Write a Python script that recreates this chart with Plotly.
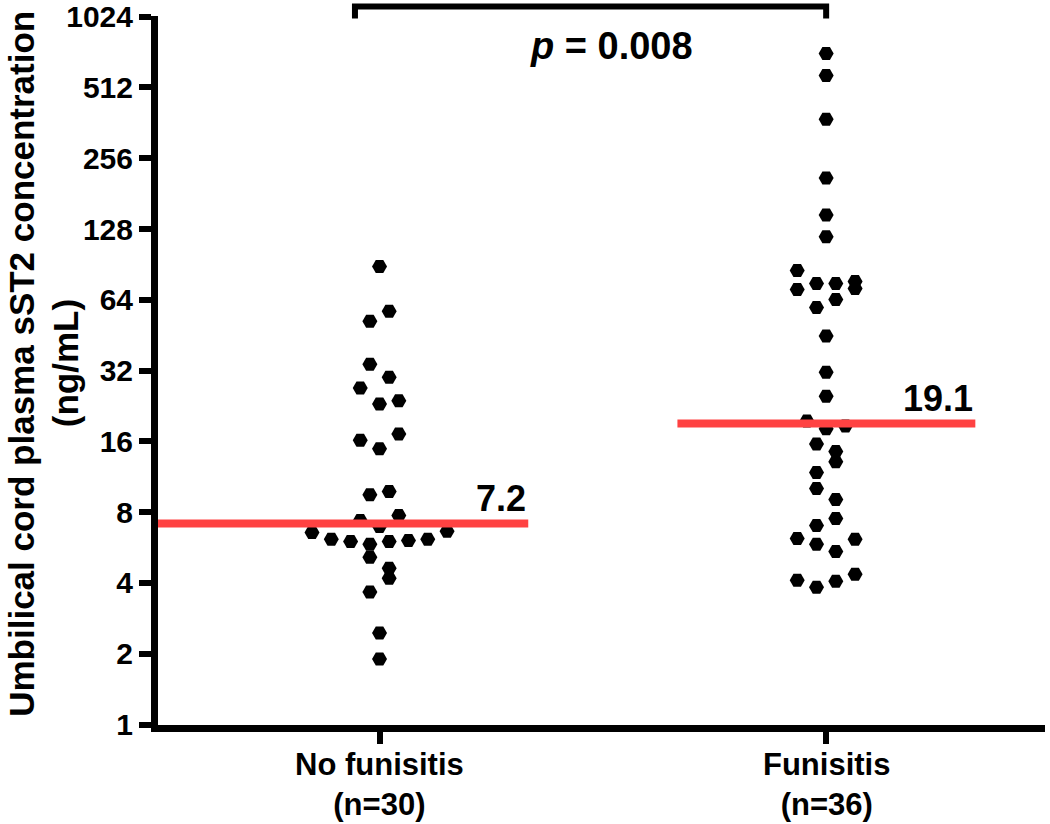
import numpy as np
import plotly.graph_objects as go

# ---------------- data ----------------
categories = ["No funisitis", "Funisitis"]
n_labels = ["(n=30)", "(n=36)"]

# values listed in data-entry order (top to bottom, left to right within rows)
no_funisitis = [88.6,
                51.9, 57.2,
                34.1, 30.0,
                27.0, 23.1, 23.8,
                16.2, 14.9, 17.2,
                9.5, 9.8,
                7.37, 6.96, 7.74,
                6.56, 6.13, 6.01, 5.84, 6.01, 6.07, 6.13, 6.63,
                5.14, 4.62,
                3.66, 4.19,
                2.45,
                1.90]
funisitis = [714, 576, 375, 211, 147, 118.6,
             85.2, 75.1, 75.1, 76.6,
             70.8, 59.4, 64.2, 71.5,
             44.9, 31.5, 24.9,
             19.56, 18.1, 18.6,
             15.6, 14.5,
             11.8, 13.1,
             10.1, 9.06,
             7.03, 7.52,
             6.19, 5.84, 5.45, 6.13,
             4.11, 3.84, 4.07, 4.36]
p_value = "0.008"
y_ticks = [1, 2, 4, 8, 16, 32, 64, 128, 256, 512, 1024]
y_title_lines = ["Umbilical cord plasma sST2 concentration", "(ng/mL)"]

groups = [no_funisitis, funisitis]

# ---------------- swarm layout (Prism-like row binning) ----------------
bin_threshold = [0.24, 0.28]   # log2 units
spacing = 0.0432               # x-units between neighbouring dots


def swarm_offsets(values, thr, sp):
    v = np.log2(np.asarray(values, dtype=float))
    order = sorted(range(len(v)), key=lambda i: (v[i], i))
    bins, cur, start = [], [], None
    for i in order:
        if start is None or v[i] - start > thr:
            if cur:
                bins.append(cur)
            cur, start = [i], v[i]
        else:
            cur.append(i)
    if cur:
        bins.append(cur)
    offs = np.zeros(len(v))
    for b in bins:
        b = sorted(b)
        n = len(b)
        for k, i in enumerate(b):
            offs[i] = (k - (n - 1) / 2) * sp
    return offs


fig = go.Figure()
FONT = "Liberation Sans, Arial, sans-serif"

for gi, vals in enumerate(groups):
    xs = gi + swarm_offsets(vals, bin_threshold[gi], spacing)
    fig.add_trace(go.Scatter(
        x=xs, y=vals, mode="markers",
        marker=dict(symbol="hexagon2", size=15, color="black", line=dict(width=0)),
        showlegend=False, hoverinfo="y"))

# median lines
medians = [float(np.median(v)) for v in groups]
line_extent = [(-0.7, 0.333), (0.667, 1.334)]
for gi, m in enumerate(medians):
    x0, x1 = line_extent[gi]
    fig.add_trace(go.Scatter(
        x=[x0, x1], y=[m, m], mode="lines",
        line=dict(color="#FF4242", width=8),
        showlegend=False, hoverinfo="skip"))
    fig.add_annotation(x=x1, y=np.log10(m), xref="x", yref="y",
                       text=f"<b>{m:.1f}</b>", showarrow=False,
                       xanchor="right", yanchor="bottom", yshift=2,
                       font=dict(family=FONT, size=36, color="black"))

# significance bracket
fig.add_shape(type="path", xref="x", yref="paper",
              path="M -0.055,0.9965 L -0.055,1.0134 L 1.0,1.0134 L 1.0,0.9965",
              line=dict(color="black", width=6))
fig.add_annotation(x=0.52, y=0.958, xref="x", yref="paper",
                   text=f"<b><i>p</i> = {p_value}</b>", showarrow=False,
                   xanchor="center", yanchor="middle",
                   font=dict(family=FONT, size=38, color="black"))

# y-axis title (two rotated lines)
for line_text, xp in zip(y_title_lines, [-0.154, -0.104]):
    fig.add_annotation(x=xp, y=0.51, xref="paper", yref="paper",
                       text=f"<b>{line_text}</b>",
                       textangle=-90, showarrow=False, xanchor="center", yanchor="middle",
                       font=dict(family=FONT, size=35, color="black"))

# category labels
for gi, (c, n) in enumerate(zip(categories, n_labels)):
    fig.add_annotation(x=gi, y=-0.028, xref="x", yref="paper",
                       text=f"<b>{c}<br>{n}</b>", showarrow=False,
                       xanchor="center", yanchor="top",
                       font=dict(family=FONT, size=31, color="black"))

fig.update_xaxes(
    range=[-0.496, 1.490], tickvals=[0, 1], showticklabels=False,
    showline=True, linecolor="black", linewidth=7,
    ticks="outside", ticklen=12, tickwidth=6, tickcolor="black",
    showgrid=False, zeroline=False, automargin=False)
fig.update_yaxes(
    type="log", range=[-0.002, np.log10(1024) + 0.003],
    tickvals=y_ticks, ticktext=[f"<b>{t}</b>" for t in y_ticks],
    ticklabeloverflow="allow",
    showline=True, linecolor="black", linewidth=7,
    ticks="outside", ticklen=12, tickwidth=6, tickcolor="black",
    showgrid=False, zeroline=False, automargin=False,
    tickfont=dict(family=FONT, size=30, color="black"))

fig.update_layout(
    width=1050, height=824,
    margin=dict(l=158, r=5, t=16, b=99),
    paper_bgcolor="white", plot_bgcolor="white",
    showlegend=False)

fig.write_html("out.html",
               config={"displayModeBar": False},
               post_script="document.body.style.margin='0';"
                           "document.body.style.overflow='hidden';")
